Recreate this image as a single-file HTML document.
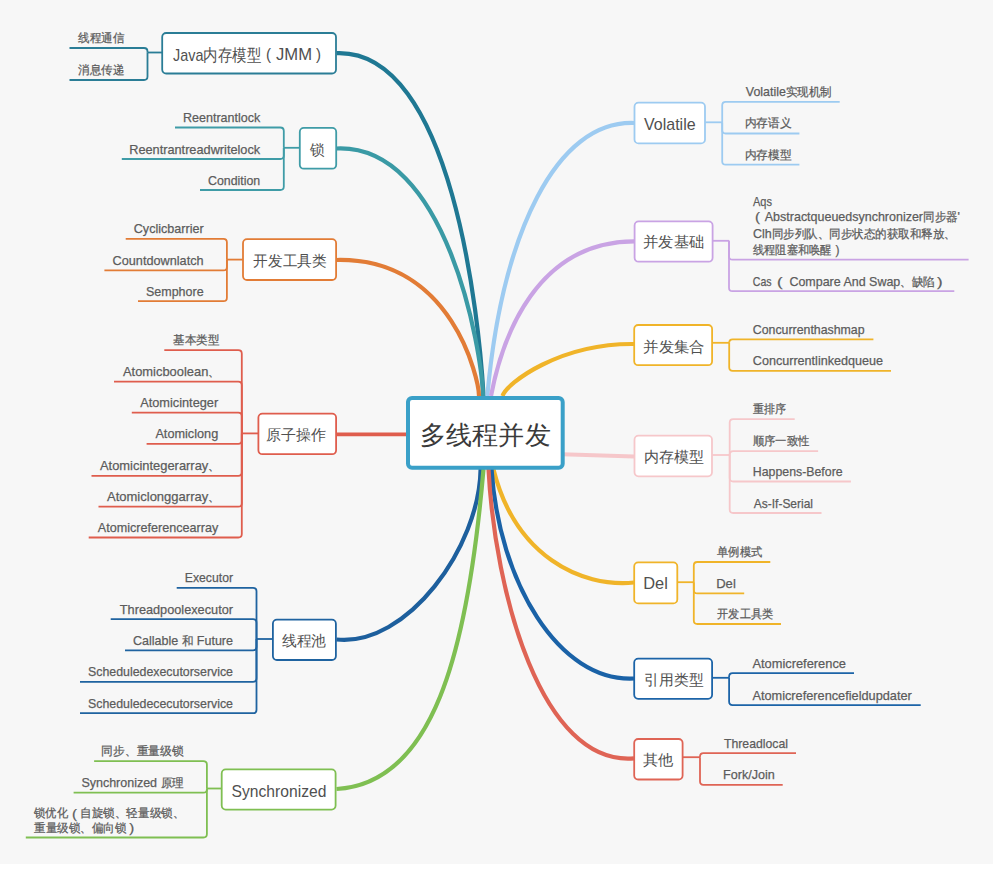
<!DOCTYPE html><html><head><meta charset="utf-8"><style>html,body{margin:0;padding:0;width:1000px;height:871px;overflow:hidden;background:#fff}</style></head><body><svg width="1000" height="871" viewBox="0 0 1000 871" style="position:absolute;left:0;top:0;font-family:'Liberation Sans', sans-serif">
<rect x="0" y="0" width="1000" height="871" fill="#fff"/>
<rect x="0" y="0" width="993" height="864" fill="#f7f7f7"/>
<path d="M336.5 53.2 C452.5 48.6 479.1 319.1 483.6 396.0" stroke="#1f7893" stroke-width="4.2" fill="none"/>
<path d="M336.5 148.5 C447.1 143.5 481.8 350.6 483.0 396.0" stroke="#3a9aa5" stroke-width="4.2" fill="none"/>
<path d="M336.5 260.0 C452.5 257.4 478.9 379.7 479.0 396.0" stroke="#e27c36" stroke-width="4.2" fill="none"/>
<path d="M336.5 639.5 C407.0 647.0 479.5 547.2 480.6 469.0" stroke="#1d5f9d" stroke-width="4.2" fill="none"/>
<path d="M336.5 789.0 C432.6 783.6 467.5 655.0 483.5 469.0" stroke="#7fbf52" stroke-width="4.2" fill="none"/>
<path d="M634.3 123.0 C556.4 120.1 502.1 232.9 487.3 396.0" stroke="#9dcbf1" stroke-width="4.2" fill="none"/>
<path d="M634.3 241.4 C536.5 241.7 502.4 336.5 491.0 396.0" stroke="#c9a3e4" stroke-width="4.2" fill="none"/>
<path d="M634.3 344.0 C560.2 343.1 506.8 382.9 502.5 396.0" stroke="#f0b429" stroke-width="4.2" fill="none"/>
<path d="M634.0 582.5 C580.4 587.7 515.0 556.0 493.4 469.0" stroke="#f0b429" stroke-width="4.2" fill="none"/>
<path d="M634.0 678.5 C558.5 682.3 498.9 581.7 491.5 469.0" stroke="#1a62a7" stroke-width="4.2" fill="none"/>
<path d="M634.0 758.3 C541.1 766.3 494.8 591.9 488.5 469.0" stroke="#df6455" stroke-width="4.2" fill="none"/>
<line x1="336" y1="434.3" x2="408" y2="434.3" stroke="#df5d4d" stroke-width="3.8"/>
<line x1="562" y1="454.2" x2="634" y2="456.5" stroke="#f6c7ca" stroke-width="4"/>
<line x1="147.5" y1="52.5" x2="162.0" y2="52.5" stroke="#2a7d96" stroke-width="1.8"/>
<path d="M147.5 52.5 V51.5 Q147.5 48.0 144.0 48.0 H69.5" stroke="#2a7d96" stroke-width="1.8" fill="none"/>
<path d="M147.5 52.5 V76.5 Q147.5 80.0 144.0 80.0 H69.5" stroke="#2a7d96" stroke-width="1.8" fill="none"/>
<text x="78.00" y="41.90" font-size="13" fill="#5c5c5c" stroke="#5c5c5c" stroke-width="0.25" textLength="46.00" lengthAdjust="spacingAndGlyphs"><tspan font-size="11.5">线程通信</tspan></text>
<text x="78.00" y="73.90" font-size="13" fill="#5c5c5c" stroke="#5c5c5c" stroke-width="0.25" textLength="46.00" lengthAdjust="spacingAndGlyphs"><tspan font-size="11.5">消息传递</tspan></text>
<rect x="162.2" y="33.0" width="173.8" height="40.5" rx="4" fill="#fff" stroke="#2a7d96" stroke-width="1.8"/>
<text x="173.00" y="60.70" font-size="17" fill="#505050" stroke="#505050" stroke-width="0" textLength="88.00" lengthAdjust="spacingAndGlyphs">Java内存模型</text>
<text x="266.00" y="60.30" font-size="17" fill="#505050" stroke="#505050" stroke-width="0" textLength="5.00" lengthAdjust="spacingAndGlyphs">(</text>
<text x="276.00" y="59.70" font-size="17" fill="#505050" stroke="#505050" stroke-width="0" textLength="36.00" lengthAdjust="spacingAndGlyphs">JMM</text>
<text x="316.00" y="60.30" font-size="17" fill="#505050" stroke="#505050" stroke-width="0" textLength="5.00" lengthAdjust="spacingAndGlyphs">)</text>
<line x1="283.8" y1="147.8" x2="299.6" y2="147.8" stroke="#3f9ca7" stroke-width="1.8"/>
<path d="M283.8 147.8 V131.0 Q283.8 127.5 280.3 127.5 H175.0" stroke="#3f9ca7" stroke-width="1.8" fill="none"/>
<path d="M283.8 147.8 V155.5 Q283.8 159.0 280.3 159.0 H121.8" stroke="#3f9ca7" stroke-width="1.8" fill="none"/>
<path d="M283.8 147.8 V186.5 Q283.8 190.0 280.3 190.0 H200.0" stroke="#3f9ca7" stroke-width="1.8" fill="none"/>
<text x="183.00" y="122.00" font-size="13" fill="#5c5c5c" stroke="#5c5c5c" stroke-width="0.25" textLength="77.20" lengthAdjust="spacingAndGlyphs">Reentrantlock</text>
<text x="129.20" y="153.50" font-size="13" fill="#5c5c5c" stroke="#5c5c5c" stroke-width="0.25" textLength="131.00" lengthAdjust="spacingAndGlyphs">Reentrantreadwritelock</text>
<text x="208.00" y="184.50" font-size="13" fill="#5c5c5c" stroke="#5c5c5c" stroke-width="0.25" textLength="52.20" lengthAdjust="spacingAndGlyphs">Condition</text>
<rect x="299.8" y="127.9" width="36.4" height="40.8" rx="4" fill="#fff" stroke="#3f9ca7" stroke-width="1.8"/>
<text x="309.80" y="154.60" font-size="15" fill="#505050" stroke="#505050" stroke-width="0" textLength="14.60" lengthAdjust="spacingAndGlyphs">锁</text>
<line x1="226.9" y1="259.6" x2="242.8" y2="259.6" stroke="#e27c36" stroke-width="1.8"/>
<path d="M226.9 259.6 V242.3 Q226.9 238.8 223.4 238.8 H125.7" stroke="#e27c36" stroke-width="1.8" fill="none"/>
<path d="M226.9 259.6 V266.9 Q226.9 270.4 223.4 270.4 H104.4" stroke="#e27c36" stroke-width="1.8" fill="none"/>
<path d="M226.9 259.6 V297.7 Q226.9 301.2 223.4 301.2 H138.0" stroke="#e27c36" stroke-width="1.8" fill="none"/>
<text x="133.80" y="233.30" font-size="13" fill="#5c5c5c" stroke="#5c5c5c" stroke-width="0.25" textLength="69.80" lengthAdjust="spacingAndGlyphs">Cyclicbarrier</text>
<text x="112.60" y="264.90" font-size="13" fill="#5c5c5c" stroke="#5c5c5c" stroke-width="0.25" textLength="91.00" lengthAdjust="spacingAndGlyphs">Countdownlatch</text>
<text x="146.00" y="295.70" font-size="13" fill="#5c5c5c" stroke="#5c5c5c" stroke-width="0.25" textLength="57.60" lengthAdjust="spacingAndGlyphs">Semphore</text>
<rect x="243.0" y="239.2" width="93.1" height="40.8" rx="4" fill="#fff" stroke="#e27c36" stroke-width="1.8"/>
<text x="253.40" y="265.50" font-size="15" fill="#505050" stroke="#505050" stroke-width="0" textLength="73.20" lengthAdjust="spacingAndGlyphs">开发工具类</text>
<line x1="241.8" y1="433.4" x2="258.2" y2="433.4" stroke="#df5d4d" stroke-width="1.8"/>
<path d="M241.8 433.4 V353.7 Q241.8 350.2 238.3 350.2 H164.3" stroke="#df5d4d" stroke-width="1.8" fill="none"/>
<path d="M241.8 433.4 V385.2 Q241.8 381.7 238.3 381.7 H114.0" stroke="#df5d4d" stroke-width="1.8" fill="none"/>
<path d="M241.8 433.4 V416.1 Q241.8 412.6 238.3 412.6 H131.8" stroke="#df5d4d" stroke-width="1.8" fill="none"/>
<path d="M241.8 433.4 V440.3 Q241.8 443.8 238.3 443.8 H146.6" stroke="#df5d4d" stroke-width="1.8" fill="none"/>
<path d="M241.8 433.4 V472.3 Q241.8 475.8 238.3 475.8 H91.5" stroke="#df5d4d" stroke-width="1.8" fill="none"/>
<path d="M241.8 433.4 V503.2 Q241.8 506.7 238.3 506.7 H98.5" stroke="#df5d4d" stroke-width="1.8" fill="none"/>
<path d="M241.8 433.4 V534.0 Q241.8 537.5 238.3 537.5 H88.7" stroke="#df5d4d" stroke-width="1.8" fill="none"/>
<text x="173.20" y="344.10" font-size="13" fill="#5c5c5c" stroke="#5c5c5c" stroke-width="0.25" textLength="46.00" lengthAdjust="spacingAndGlyphs"><tspan font-size="11.5">基本类型</tspan></text>
<text x="123.00" y="376.20" font-size="13" fill="#5c5c5c" stroke="#5c5c5c" stroke-width="0.25" textLength="97.20" lengthAdjust="spacingAndGlyphs">Atomicboolean<tspan font-size="11.5">、</tspan></text>
<text x="140.20" y="407.10" font-size="13" fill="#5c5c5c" stroke="#5c5c5c" stroke-width="0.25" textLength="78.00" lengthAdjust="spacingAndGlyphs">Atomicinteger</text>
<text x="155.40" y="438.30" font-size="13" fill="#5c5c5c" stroke="#5c5c5c" stroke-width="0.25" textLength="62.80" lengthAdjust="spacingAndGlyphs">Atomiclong</text>
<text x="100.00" y="470.30" font-size="13" fill="#5c5c5c" stroke="#5c5c5c" stroke-width="0.25" textLength="120.20" lengthAdjust="spacingAndGlyphs">Atomicintegerarray<tspan font-size="11.5">、</tspan></text>
<text x="107.00" y="501.20" font-size="13" fill="#5c5c5c" stroke="#5c5c5c" stroke-width="0.25" textLength="113.20" lengthAdjust="spacingAndGlyphs">Atomiclonggarray<tspan font-size="11.5">、</tspan></text>
<text x="97.80" y="532.00" font-size="13" fill="#5c5c5c" stroke="#5c5c5c" stroke-width="0.25" textLength="120.40" lengthAdjust="spacingAndGlyphs">Atomicreferencearray</text>
<rect x="258.4" y="413.6" width="77.7" height="40.6" rx="4" fill="#fff" stroke="#df5d4d" stroke-width="1.8"/>
<text x="266.00" y="439.80" font-size="15" fill="#505050" stroke="#505050" stroke-width="0" textLength="60.20" lengthAdjust="spacingAndGlyphs">原子操作</text>
<line x1="256.5" y1="639.0" x2="272.7" y2="639.0" stroke="#1f63a0" stroke-width="1.8"/>
<path d="M256.5 639.0 V591.3 Q256.5 587.8 253.0 587.8 H176.7" stroke="#1f63a0" stroke-width="1.8" fill="none"/>
<path d="M256.5 639.0 V622.7 Q256.5 619.2 253.0 619.2 H110.7" stroke="#1f63a0" stroke-width="1.8" fill="none"/>
<path d="M256.5 639.0 V646.8 Q256.5 650.3 253.0 650.3 H125.0" stroke="#1f63a0" stroke-width="1.8" fill="none"/>
<path d="M256.5 639.0 V678.3 Q256.5 681.8 253.0 681.8 H80.0" stroke="#1f63a0" stroke-width="1.8" fill="none"/>
<path d="M256.5 639.0 V709.7 Q256.5 713.2 253.0 713.2 H80.0" stroke="#1f63a0" stroke-width="1.8" fill="none"/>
<text x="184.80" y="582.30" font-size="13" fill="#5c5c5c" stroke="#5c5c5c" stroke-width="0.25" textLength="48.20" lengthAdjust="spacingAndGlyphs">Executor</text>
<text x="119.80" y="613.70" font-size="13" fill="#5c5c5c" stroke="#5c5c5c" stroke-width="0.25" textLength="113.20" lengthAdjust="spacingAndGlyphs">Threadpoolexecutor</text>
<text x="133.00" y="644.80" font-size="13" fill="#5c5c5c" stroke="#5c5c5c" stroke-width="0.25" textLength="100.00" lengthAdjust="spacingAndGlyphs">Callable <tspan font-size="11.5">和</tspan> Future</text>
<text x="88.00" y="676.30" font-size="13" fill="#5c5c5c" stroke="#5c5c5c" stroke-width="0.25" textLength="145.00" lengthAdjust="spacingAndGlyphs">Scheduledexecutorservice</text>
<text x="88.00" y="707.70" font-size="13" fill="#5c5c5c" stroke="#5c5c5c" stroke-width="0.25" textLength="145.00" lengthAdjust="spacingAndGlyphs">Scheduledececutorservice</text>
<rect x="272.9" y="619.7" width="63.0" height="40.3" rx="4" fill="#fff" stroke="#1f63a0" stroke-width="1.8"/>
<text x="281.80" y="646.15" font-size="15" fill="#505050" stroke="#505050" stroke-width="0" textLength="44.40" lengthAdjust="spacingAndGlyphs">线程池</text>
<line x1="206.9" y1="788.5" x2="221.5" y2="788.5" stroke="#7fbf52" stroke-width="1.8"/>
<path d="M206.9 788.5 V764.7 Q206.9 761.2 203.4 761.2 H94.1" stroke="#7fbf52" stroke-width="1.8" fill="none"/>
<path d="M206.9 788.5 V789.2 Q206.9 792.7 203.4 792.7 H73.6" stroke="#7fbf52" stroke-width="1.8" fill="none"/>
<path d="M206.9 788.5 V834.0 Q206.9 837.5 203.4 837.5 H25.8" stroke="#7fbf52" stroke-width="1.8" fill="none"/>
<text x="101.40" y="755.10" font-size="13" fill="#5c5c5c" stroke="#5c5c5c" stroke-width="0.25" textLength="82.20" lengthAdjust="spacingAndGlyphs"><tspan font-size="11.5">同步、重量级锁</tspan></text>
<text x="81.40" y="787.20" font-size="13" fill="#5c5c5c" stroke="#5c5c5c" stroke-width="0.25" textLength="102.20" lengthAdjust="spacingAndGlyphs">Synchronized <tspan font-size="11.5">原理</tspan></text>
<text x="34.20" y="817.40" font-size="13" fill="#5c5c5c" stroke="#5c5c5c" stroke-width="0.25" textLength="33.80" lengthAdjust="spacingAndGlyphs"><tspan font-size="11.5">锁优化</tspan></text>
<text x="72.00" y="817.50" font-size="13" fill="#5c5c5c" stroke="#5c5c5c" stroke-width="0.25" textLength="5.00" lengthAdjust="spacingAndGlyphs">(</text>
<text x="80.20" y="817.40" font-size="13" fill="#5c5c5c" stroke="#5c5c5c" stroke-width="0.25" textLength="104.00" lengthAdjust="spacingAndGlyphs"><tspan font-size="11.5">自旋锁、轻量级锁、</tspan></text>
<text x="34.20" y="831.90" font-size="13" fill="#5c5c5c" stroke="#5c5c5c" stroke-width="0.25" textLength="91.80" lengthAdjust="spacingAndGlyphs"><tspan font-size="11.5">重量级锁、偏向锁</tspan></text>
<text x="129.20" y="832.00" font-size="13" fill="#5c5c5c" stroke="#5c5c5c" stroke-width="0.25" textLength="5.00" lengthAdjust="spacingAndGlyphs">)</text>
<rect x="221.7" y="769.4" width="113.9" height="40.2" rx="4" fill="#fff" stroke="#7fbf52" stroke-width="1.8"/>
<text x="231.60" y="796.60" font-size="17" fill="#505050" stroke="#505050" stroke-width="0" textLength="94.80" lengthAdjust="spacingAndGlyphs">Synchronized</text>
<line x1="705.3" y1="122.3" x2="722.2" y2="122.3" stroke="#9dcbf1" stroke-width="1.8"/>
<path d="M722.2 122.3 V105.3 Q722.2 101.8 725.7 101.8 H839.7" stroke="#9dcbf1" stroke-width="1.8" fill="none"/>
<path d="M722.2 122.3 V130.0 Q722.2 133.5 725.7 133.5 H799.4" stroke="#9dcbf1" stroke-width="1.8" fill="none"/>
<path d="M722.2 122.3 V161.2 Q722.2 164.7 725.7 164.7 H799.4" stroke="#9dcbf1" stroke-width="1.8" fill="none"/>
<text x="745.80" y="96.30" font-size="13" fill="#5c5c5c" stroke="#5c5c5c" stroke-width="0.25" textLength="86.00" lengthAdjust="spacingAndGlyphs">Volatile<tspan font-size="11.5">实现机制</tspan></text>
<text x="744.80" y="127.40" font-size="13" fill="#5c5c5c" stroke="#5c5c5c" stroke-width="0.25" textLength="46.80" lengthAdjust="spacingAndGlyphs"><tspan font-size="11.5">内存语义</tspan></text>
<text x="744.80" y="158.60" font-size="13" fill="#5c5c5c" stroke="#5c5c5c" stroke-width="0.25" textLength="46.80" lengthAdjust="spacingAndGlyphs"><tspan font-size="11.5">内存模型</tspan></text>
<rect x="634.5" y="102.7" width="70.5" height="40.7" rx="4" fill="#fff" stroke="#9dcbf1" stroke-width="1.8"/>
<text x="644.00" y="129.60" font-size="17" fill="#505050" stroke="#505050" stroke-width="0" textLength="51.60" lengthAdjust="spacingAndGlyphs">Volatile</text>
<line x1="712.9" y1="240.8" x2="729.0" y2="240.8" stroke="#c9a3e4" stroke-width="1.8"/>
<path d="M729.0 240.8 V256.2 Q729.0 259.7 732.5 259.7 H968.6" stroke="#c9a3e4" stroke-width="1.8" fill="none"/>
<path d="M729.0 240.8 V287.7 Q729.0 291.2 732.5 291.2 H954.3" stroke="#c9a3e4" stroke-width="1.8" fill="none"/>
<text x="753.00" y="205.80" font-size="13" fill="#5c5c5c" stroke="#5c5c5c" stroke-width="0.25" textLength="19.00" lengthAdjust="spacingAndGlyphs">Aqs</text>
<text x="755.00" y="221.00" font-size="13" fill="#5c5c5c" stroke="#5c5c5c" stroke-width="0.25" textLength="5.00" lengthAdjust="spacingAndGlyphs">(</text>
<text x="764.80" y="221.40" font-size="13" fill="#5c5c5c" stroke="#5c5c5c" stroke-width="0.25" textLength="195.20" lengthAdjust="spacingAndGlyphs">Abstractqueuedsynchronizer<tspan font-size="11.5">同步器</tspan>'</text>
<text x="753.00" y="238.20" font-size="13" fill="#5c5c5c" stroke="#5c5c5c" stroke-width="0.25" textLength="202.80" lengthAdjust="spacingAndGlyphs">Clh<tspan font-size="11.5">同步列队、同步状态的获取和释放、</tspan></text>
<text x="753.00" y="253.90" font-size="13" fill="#5c5c5c" stroke="#5c5c5c" stroke-width="0.25" textLength="78.60" lengthAdjust="spacingAndGlyphs"><tspan font-size="11.5">线程阻塞和唤醒</tspan></text>
<text x="835.60" y="254.00" font-size="13" fill="#5c5c5c" stroke="#5c5c5c" stroke-width="0.25" textLength="4.00" lengthAdjust="spacingAndGlyphs">)</text>
<text x="752.80" y="285.70" font-size="13" fill="#5c5c5c" stroke="#5c5c5c" stroke-width="0.25" textLength="18.80" lengthAdjust="spacingAndGlyphs">Cas</text>
<text x="777.00" y="285.50" font-size="13" fill="#5c5c5c" stroke="#5c5c5c" stroke-width="0.25" textLength="5.60" lengthAdjust="spacingAndGlyphs">(</text>
<text x="789.40" y="285.70" font-size="13" fill="#5c5c5c" stroke="#5c5c5c" stroke-width="0.25" textLength="145.40" lengthAdjust="spacingAndGlyphs">Compare And Swap<tspan font-size="11.5">、缺陷</tspan></text>
<text x="937.00" y="285.50" font-size="13" fill="#5c5c5c" stroke="#5c5c5c" stroke-width="0.25" textLength="5.60" lengthAdjust="spacingAndGlyphs">)</text>
<rect x="634.6" y="221.4" width="78.0" height="40.3" rx="4" fill="#fff" stroke="#c9a3e4" stroke-width="1.8"/>
<text x="643.00" y="247.30" font-size="15" fill="#505050" stroke="#505050" stroke-width="0" textLength="61.20" lengthAdjust="spacingAndGlyphs">并发基础</text>
<line x1="712.4" y1="342.8" x2="729.2" y2="342.8" stroke="#f0b429" stroke-width="1.8"/>
<path d="M729.2 342.8 V342.8 Q729.2 339.4 732.6 339.4 H873.4" stroke="#f0b429" stroke-width="1.8" fill="none"/>
<path d="M729.2 342.8 V367.3 Q729.2 370.8 732.7 370.8 H891.0" stroke="#f0b429" stroke-width="1.8" fill="none"/>
<text x="752.80" y="333.90" font-size="13" fill="#5c5c5c" stroke="#5c5c5c" stroke-width="0.25" textLength="111.80" lengthAdjust="spacingAndGlyphs">Concurrenthashmap</text>
<text x="752.80" y="365.30" font-size="13" fill="#5c5c5c" stroke="#5c5c5c" stroke-width="0.25" textLength="130.20" lengthAdjust="spacingAndGlyphs">Concurrentlinkedqueue</text>
<rect x="634.2" y="325.0" width="77.9" height="40.2" rx="4" fill="#fff" stroke="#f0b429" stroke-width="1.8"/>
<text x="643.20" y="351.50" font-size="15" fill="#505050" stroke="#505050" stroke-width="0" textLength="61.40" lengthAdjust="spacingAndGlyphs">并发集合</text>
<line x1="712.3" y1="455.0" x2="729.7" y2="455.0" stroke="#f6c7ca" stroke-width="1.8"/>
<path d="M729.7 455.0 V422.6 Q729.7 419.1 733.2 419.1 H794.7" stroke="#f6c7ca" stroke-width="1.8" fill="none"/>
<path d="M729.7 455.0 V454.6 Q729.7 451.1 733.2 451.1 H818.1" stroke="#f6c7ca" stroke-width="1.8" fill="none"/>
<path d="M729.7 455.0 V478.0 Q729.7 481.5 733.2 481.5 H850.9" stroke="#f6c7ca" stroke-width="1.8" fill="none"/>
<path d="M729.7 455.0 V509.5 Q729.7 513.0 733.2 513.0 H821.5" stroke="#f6c7ca" stroke-width="1.8" fill="none"/>
<text x="752.80" y="413.00" font-size="13" fill="#5c5c5c" stroke="#5c5c5c" stroke-width="0.25" textLength="33.00" lengthAdjust="spacingAndGlyphs"><tspan font-size="11.5">重排序</tspan></text>
<text x="752.80" y="445.00" font-size="13" fill="#5c5c5c" stroke="#5c5c5c" stroke-width="0.25" textLength="56.60" lengthAdjust="spacingAndGlyphs"><tspan font-size="11.5">顺序一致性</tspan></text>
<text x="752.80" y="476.00" font-size="13" fill="#5c5c5c" stroke="#5c5c5c" stroke-width="0.25" textLength="89.80" lengthAdjust="spacingAndGlyphs">Happens-Before</text>
<text x="753.80" y="507.50" font-size="13" fill="#5c5c5c" stroke="#5c5c5c" stroke-width="0.25" textLength="59.20" lengthAdjust="spacingAndGlyphs">As-If-Serial</text>
<rect x="634.5" y="435.7" width="77.5" height="40.6" rx="4" fill="#fff" stroke="#f6c7ca" stroke-width="1.8"/>
<text x="643.80" y="462.30" font-size="15" fill="#505050" stroke="#505050" stroke-width="0" textLength="60.00" lengthAdjust="spacingAndGlyphs">内存模型</text>
<line x1="677.6" y1="582.2" x2="693.8" y2="582.2" stroke="#f0b429" stroke-width="1.8"/>
<path d="M693.8 582.2 V565.5 Q693.8 562.0 697.3 562.0 H770.3" stroke="#f0b429" stroke-width="1.8" fill="none"/>
<path d="M693.8 582.2 V589.9 Q693.8 593.4 697.3 593.4 H744.2" stroke="#f0b429" stroke-width="1.8" fill="none"/>
<path d="M693.8 582.2 V620.5 Q693.8 624.0 697.3 624.0 H781.0" stroke="#f0b429" stroke-width="1.8" fill="none"/>
<text x="717.20" y="555.90" font-size="13" fill="#5c5c5c" stroke="#5c5c5c" stroke-width="0.25" textLength="45.00" lengthAdjust="spacingAndGlyphs"><tspan font-size="11.5">单例模式</tspan></text>
<text x="716.20" y="587.90" font-size="13" fill="#5c5c5c" stroke="#5c5c5c" stroke-width="0.25" textLength="19.60" lengthAdjust="spacingAndGlyphs">Del</text>
<text x="717.20" y="617.90" font-size="13" fill="#5c5c5c" stroke="#5c5c5c" stroke-width="0.25" textLength="55.80" lengthAdjust="spacingAndGlyphs"><tspan font-size="11.5">开发工具类</tspan></text>
<rect x="634.2" y="562.4" width="43.1" height="41.0" rx="4" fill="#fff" stroke="#f0b429" stroke-width="1.8"/>
<text x="643.20" y="589.40" font-size="17" fill="#505050" stroke="#505050" stroke-width="0" textLength="24.60" lengthAdjust="spacingAndGlyphs">Del</text>
<line x1="712.4" y1="677.8" x2="729.1" y2="677.8" stroke="#1c64a8" stroke-width="1.8"/>
<path d="M729.1 677.8 V676.7 Q729.1 673.2 732.6 673.2 H854.0" stroke="#1c64a8" stroke-width="1.8" fill="none"/>
<path d="M729.1 677.8 V701.6 Q729.1 705.1 732.6 705.1 H920.7" stroke="#1c64a8" stroke-width="1.8" fill="none"/>
<text x="752.40" y="667.70" font-size="13" fill="#5c5c5c" stroke="#5c5c5c" stroke-width="0.25" textLength="93.60" lengthAdjust="spacingAndGlyphs">Atomicreference</text>
<text x="752.40" y="699.60" font-size="13" fill="#5c5c5c" stroke="#5c5c5c" stroke-width="0.25" textLength="159.40" lengthAdjust="spacingAndGlyphs">Atomicreferencefieldupdater</text>
<rect x="634.2" y="658.6" width="77.9" height="40.2" rx="4" fill="#fff" stroke="#1c64a8" stroke-width="1.8"/>
<text x="644.20" y="684.70" font-size="15" fill="#505050" stroke="#505050" stroke-width="0" textLength="59.20" lengthAdjust="spacingAndGlyphs">引用类型</text>
<line x1="682.9" y1="757.2" x2="700.0" y2="757.2" stroke="#df6455" stroke-width="1.8"/>
<path d="M700.0 757.2 V756.6 Q700.0 753.1 703.5 753.1 H796.0" stroke="#df6455" stroke-width="1.8" fill="none"/>
<path d="M700.0 757.2 V781.3 Q700.0 784.8 703.5 784.8 H782.7" stroke="#df6455" stroke-width="1.8" fill="none"/>
<text x="724.00" y="747.60" font-size="13" fill="#5c5c5c" stroke="#5c5c5c" stroke-width="0.25" textLength="64.00" lengthAdjust="spacingAndGlyphs">Threadlocal</text>
<text x="723.00" y="779.30" font-size="13" fill="#5c5c5c" stroke="#5c5c5c" stroke-width="0.25" textLength="51.80" lengthAdjust="spacingAndGlyphs">Fork/Join</text>
<rect x="634.2" y="739.0" width="48.4" height="40.5" rx="4" fill="#fff" stroke="#df6455" stroke-width="1.8"/>
<text x="642.80" y="765.10" font-size="15" fill="#505050" stroke="#505050" stroke-width="0" textLength="30.40" lengthAdjust="spacingAndGlyphs">其他</text>
<rect x="408" y="398" width="154.7" height="69.8" rx="4" fill="#fff" stroke="#3aa0c8" stroke-width="4"/>
<text x="420.20" y="444.05" font-size="26" fill="#3a3a3a" stroke="#3a3a3a" stroke-width="0" textLength="130.40" lengthAdjust="spacingAndGlyphs">多线程并发</text>
</svg></body></html>
